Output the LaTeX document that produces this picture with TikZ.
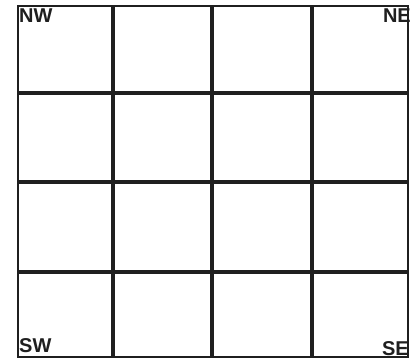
\documentclass[tikz,border=0pt]{standalone}
\usepackage{fontspec}
\setmainfont{Liberation Sans}
\begin{document}
\begin{tikzpicture}[x=1pt,y=-1pt,
  lab/.style={inner sep=0pt,font=\bfseries\fontsize{20}{20}\selectfont,text=black!88},
  cellbox/.style={draw=black!88,line width=2.2pt}]
\useasboundingbox (0,0) rectangle (417,362);
\node[lab,anchor=north west] (nw) at (19,9) {NW};
\node[lab,anchor=north east] (ne) at (411,9) {NE};
\node[lab,anchor=south west] (sw) at (19,353) {SW};
\node[lab,anchor=south east] (se) at (409,356) {SE};
\def\xs{{17,113,212,312,409}}
\def\ys{{5,93,182,272,358}}
\foreach \i in {0,1,2,3}{
  \foreach \j in {0,1,2,3}{
    \pgfmathsetmacro\xa{\xs[\i]+1.3}
    \pgfmathsetmacro\xb{\xs[\i+1]-1.3}
    \pgfmathsetmacro\ya{\ys[\j]+1.3}
    \pgfmathsetmacro\yb{\ys[\j+1]-1.3}
    \draw[cellbox] (\xa,\ya) rectangle (\xb,\yb);
  }
}
\end{tikzpicture}
\end{document}
